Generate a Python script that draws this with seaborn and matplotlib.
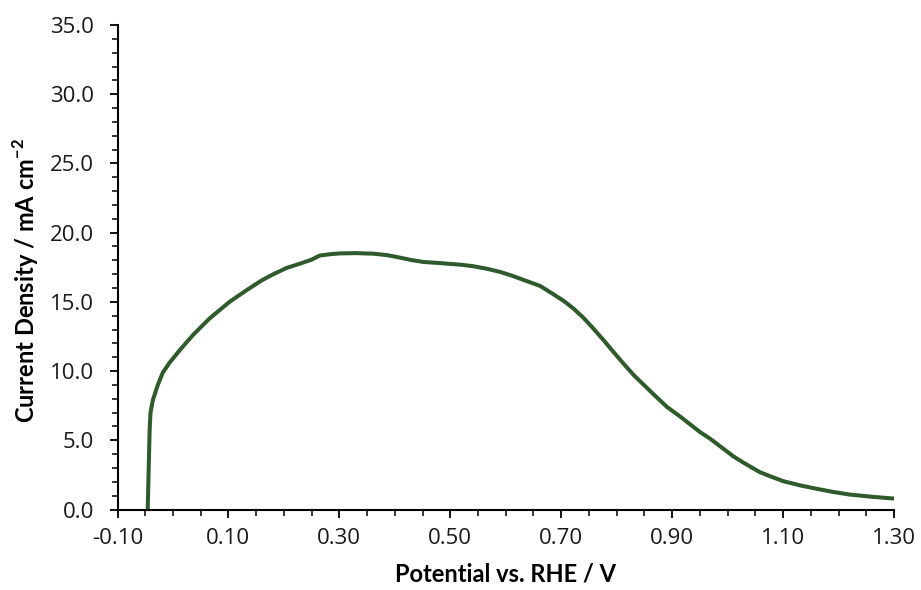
import matplotlib
matplotlib.use("Agg")
import matplotlib.pyplot as plt
from matplotlib.ticker import MultipleLocator, FormatStrFormatter
import seaborn as sns
import pandas as pd

# Linear sweep voltammogram: current density vs. potential
potential_v = [-0.0455, -0.0435, -0.0420, -0.0405, -0.0363, -0.0273, -0.0182,
               -0.0062, 0.012, 0.036, 0.066, 0.102, 0.133, 0.160, 0.181,
               0.205, 0.229, 0.250, 0.265, 0.285, 0.301, 0.330, 0.361,
               0.385, 0.404, 0.430, 0.452, 0.475, 0.494, 0.520, 0.542,
               0.565, 0.590, 0.612, 0.638, 0.662, 0.686, 0.705, 0.722,
               0.740, 0.758, 0.776, 0.794, 0.812, 0.831, 0.849, 0.867,
               0.891, 0.915, 0.950, 0.969, 1.010, 1.030, 1.058, 1.080,
               1.100, 1.130, 1.160, 1.190, 1.220, 1.260, 1.300]
current_ma_cm2 = [0.0, 3.4, 5.8, 7.0, 7.9, 9.0, 9.9,
                  10.6, 11.5, 12.6, 13.8, 15.0, 15.85, 16.55, 17.0,
                  17.45, 17.76, 18.05, 18.35, 18.45, 18.5, 18.52, 18.48,
                  18.38, 18.24, 18.02, 17.88, 17.82, 17.76, 17.68, 17.57,
                  17.4, 17.16, 16.88, 16.5, 16.15, 15.55, 15.05, 14.52,
                  13.85, 13.07, 12.25, 11.39, 10.55, 9.7, 9.0, 8.3,
                  7.4, 6.7, 5.6, 5.1, 3.85, 3.35, 2.7, 2.35,
                  2.05, 1.75, 1.5, 1.27, 1.08, 0.92, 0.79]

x_ticks = [-0.10, 0.10, 0.30, 0.50, 0.70, 0.90, 1.10, 1.30]
y_ticks = [0.0, 5.0, 10.0, 15.0, 20.0, 25.0, 30.0, 35.0]

df = pd.DataFrame({"E": potential_v, "J": current_ma_cm2})

sns.set_style("ticks")
plt.rcParams["font.family"] = ["Open Sans", "DejaVu Sans"]
plt.rcParams["mathtext.fontset"] = "custom"
plt.rcParams["mathtext.rm"] = "Lato"
plt.rcParams["mathtext.bf"] = "Lato:bold"

fig = plt.figure(figsize=(9.21, 5.90), dpi=100)
ax = fig.add_axes([117.5 / 921, (590 - 509.5) / 590,
                   (894 - 117.5) / 921, (509.5 - 25) / 590])

sns.lineplot(data=df, x="E", y="J", ax=ax, color="#2e5a2c", linewidth=2.9,
             sort=False, estimator=None)

ax.set_xlim(x_ticks[0], x_ticks[-1])
ax.set_ylim(y_ticks[0], y_ticks[-1])
ax.set_xticks(x_ticks)
ax.set_yticks(y_ticks)
ax.xaxis.set_minor_locator(MultipleLocator(0.05))
ax.yaxis.set_minor_locator(MultipleLocator(1.0))
ax.xaxis.set_major_formatter(FormatStrFormatter("%.2f"))
ax.yaxis.set_major_formatter(FormatStrFormatter("%.1f"))

for side in ("top", "right"):
    ax.spines[side].set_visible(False)
for side in ("left", "bottom"):
    ax.spines[side].set_linewidth(1.5)
    ax.spines[side].set_color("black")

ax.tick_params(axis="both", which="major", direction="out", length=6,
               width=1.3, color="black", labelsize=16, labelcolor="#1a1a1a")
ax.tick_params(axis="both", which="minor", direction="out", length=4.5,
               width=1.1, color="black")
ax.tick_params(axis="y", which="major", pad=11)
ax.tick_params(axis="x", which="major", pad=7)

label_font = {"family": ["Lato", "DejaVu Sans"], "size": 17,
              "weight": "bold", "color": "black"}
ax.set_xlabel("Potential vs. RHE / V", fontdict=label_font)
ax.set_ylabel(r"Current Density / mA cm$^{\mathbf{-2}}$", fontdict=label_font)
ax.xaxis.set_label_coords(0.5, -0.11)
ax.yaxis.set_label_coords(-0.099, 0.472)
ax.grid(False)

fig.savefig("out.png", dpi=100, facecolor="white")
